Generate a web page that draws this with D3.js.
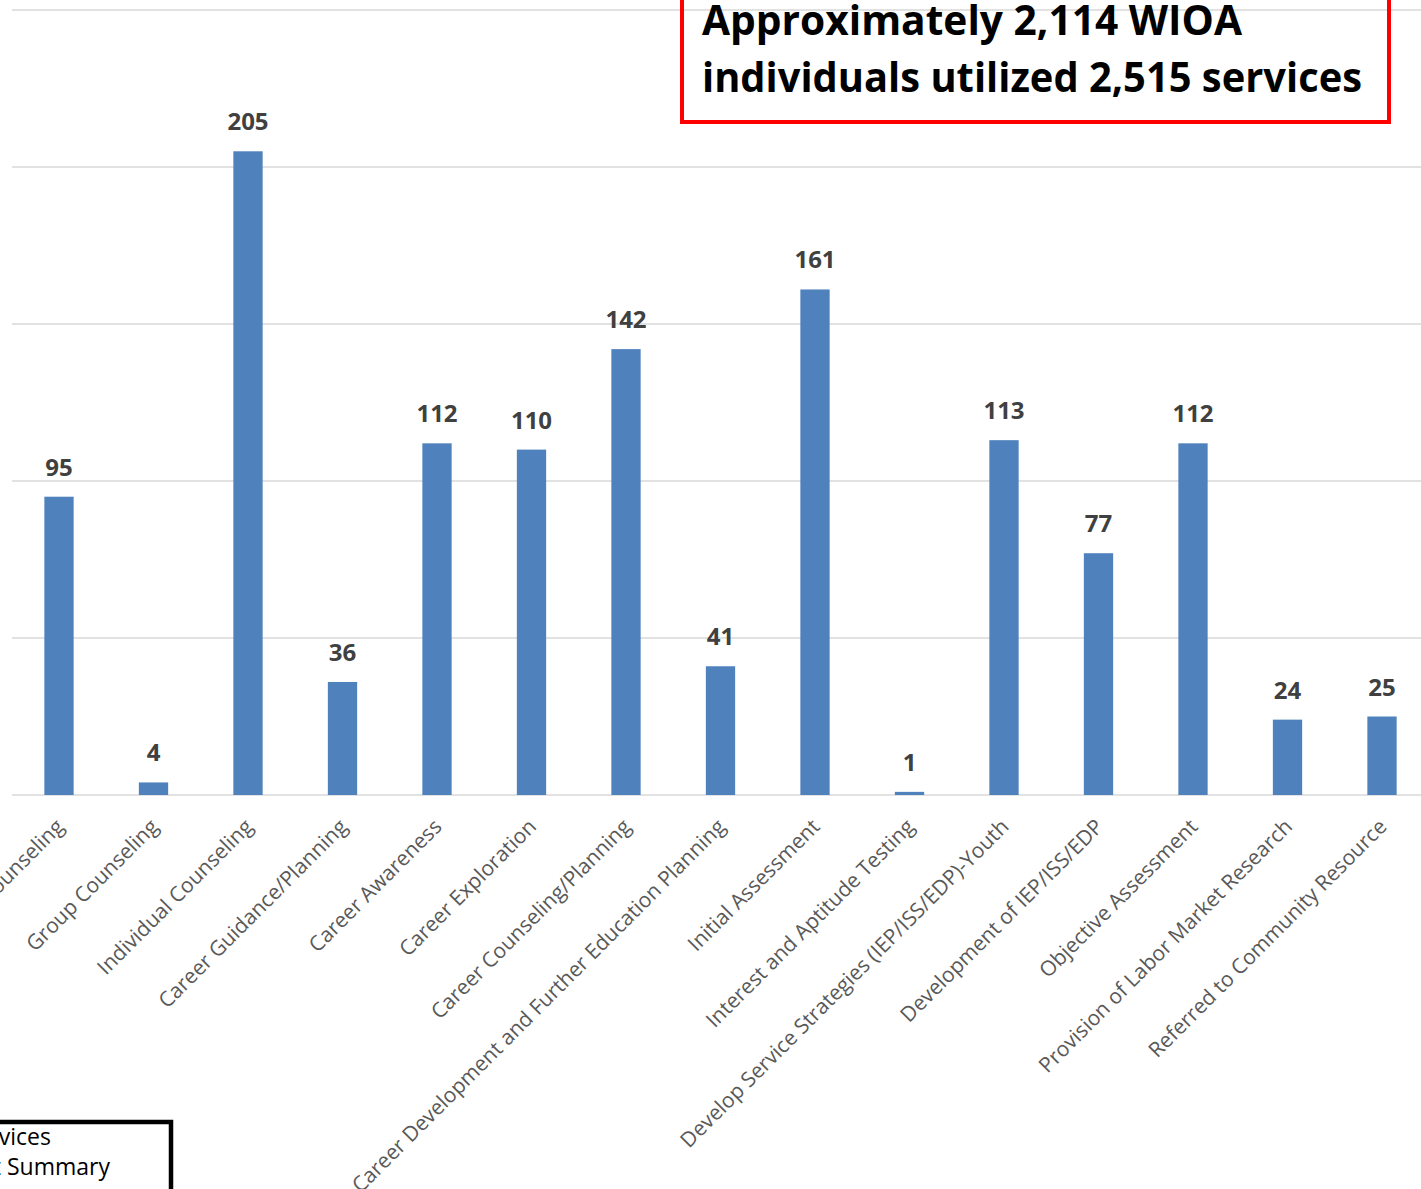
<!DOCTYPE html>
<html>
<head>
<meta charset="utf-8">
<script src="https://cdn.jsdelivr.net/npm/d3@7/dist/d3.min.js"></script>
<style>
  html, body { margin: 0; padding: 0; background: #fff; }
  svg { display: block; }
</style>
</head>
<body>
<svg id="chart" width="1421" height="1189"></svg>
<script>
// Service categories and counts
const categories = [
  "Counseling",
  "Group Counseling",
  "Individual Counseling",
  "Career Guidance/Planning",
  "Career Awareness",
  "Career Exploration",
  "Career Counseling/Planning",
  "Career Development and Further Education Planning",
  "Initial Assessment",
  "Interest and Aptitude Testing",
  "Develop Service Strategies (IEP/ISS/EDP)-Youth",
  "Development of IEP/ISS/EDP",
  "Objective Assessment",
  "Provision of Labor Market Research",
  "Referred to Community Resource"
];
const serviceCounts = [95, 4, 205, 36, 112, 110, 142, 41, 161, 1, 113, 77, 112, 24, 25];
const gridTicks = [0, 50, 100, 150, 200, 250];
const calloutLines = ["Approximately 2,114 WIOA", "individuals utilized 2,515 services"];
const noteLines = ["Services", "Report Summary"];

const data = categories.map((c, i) => ({ category: c, value: serviceCounts[i] }));

const svg = d3.select("#chart");
const W = 1421;

const x = d3.scaleBand()
  .domain(categories)
  .range([11.75, 11.75 + 94.5 * categories.length])
  .paddingInner(0.69)
  .paddingOuter(0.345);

const y = d3.scaleLinear().domain([0, 250]).range([795, 10]);

// Horizontal gridlines
svg.append("g")
  .selectAll("line")
  .data(gridTicks)
  .join("line")
  .attr("x1", 12)
  .attr("x2", W)
  .attr("y1", d => y(d))
  .attr("y2", d => y(d))
  .attr("stroke", "#d9d9d9")
  .attr("stroke-width", 1.6);

// Bars
svg.append("g")
  .selectAll("rect")
  .data(data)
  .join("rect")
  .attr("x", d => x(d.category))
  .attr("width", x.bandwidth())
  .attr("y", d => y(d.value))
  .attr("height", d => y(0) - y(d.value))
  .attr("fill", "#4f81bd");

// Value labels
svg.append("g")
  .selectAll("text")
  .data(data)
  .join("text")
  .attr("x", d => x(d.category) + x.bandwidth() / 2)
  .attr("y", d => y(d.value) - 21)
  .attr("text-anchor", "middle")
  .attr("font-family", "'Open Sans', sans-serif")
  .attr("font-weight", "bold")
  .attr("font-size", 24)
  .attr("fill", "#404040")
  .text(d => d.value);

// Category axis
const xAxis = svg.append("g")
  .attr("transform", `translate(0, ${y(0)})`)
  .call(d3.axisBottom(x).tickSize(0).tickPadding(0));
xAxis.select(".domain").remove();
xAxis.selectAll(".tick text")
  .attr("font-family", "'Open Sans', sans-serif")
  .attr("font-size", 21)
  .attr("fill", "#595959")
  .attr("text-anchor", "end")
  .attr("dy", null)
  .attr("y", 0)
  .attr("transform", "translate(6, 33) rotate(-45)");

// Callout box
svg.append("rect")
  .attr("x", 682)
  .attr("y", -20)
  .attr("width", 707)
  .attr("height", 142)
  .attr("fill", "none")
  .attr("stroke", "#ff0000")
  .attr("stroke-width", 4);

const lineWidths = [540, 660];
svg.append("g")
  .selectAll("text")
  .data(calloutLines)
  .join("text")
  .attr("x", 702)
  .attr("y", (d, i) => 35 + i * 57)
  .attr("font-family", "'Open Sans', sans-serif")
  .attr("font-weight", "bold")
  .attr("font-size", 41)
  .attr("fill", "#000")
  .attr("textLength", (d, i) => lineWidths[i])
  .attr("lengthAdjust", "spacingAndGlyphs")
  .text(d => d);

// Note box in the lower-left corner
svg.append("rect")
  .attr("x", -20)
  .attr("y", 1122)
  .attr("width", 191)
  .attr("height", 100)
  .attr("fill", "none")
  .attr("stroke", "#000")
  .attr("stroke-width", 4.5);

const noteEnds = [51, 110];
svg.append("g")
  .selectAll("text")
  .data(noteLines)
  .join("text")
  .attr("x", (d, i) => noteEnds[i])
  .attr("y", (d, i) => 1145 + i * 30)
  .attr("text-anchor", "end")
  .attr("font-family", "'Open Sans', sans-serif")
  .attr("font-size", 23)
  .attr("fill", "#000")
  .text(d => d);
</script>
</body>
</html>
